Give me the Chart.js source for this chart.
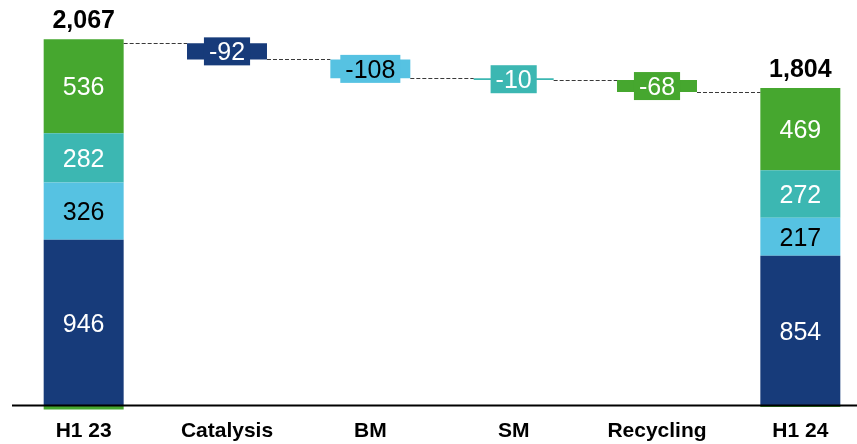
<!DOCTYPE html>
<html>
<head>
<meta charset="utf-8">
<script src="https://cdn.jsdelivr.net/npm/chart.js@4"></script>
<style>
  html, body { margin: 0; padding: 0; background: #fff; overflow: hidden; }
  #wrap { position: relative; width: 872px; height: 444px; }
</style>
</head>
<body>
<div id="wrap"><canvas id="c"></canvas></div>
<script>
const categories = ['H1 23', 'Catalysis', 'BM', 'SM', 'Recycling', 'H1 24'];

// Segment values for the two periods (H1 23, H1 24)
const catalysisSeg = [946, 854];
const bmSeg = [326, 217];
const smSeg = [282, 272];
const recyclingSeg = [536, 469];
const otherSeg = [-23, -8];
const periodTotals = [2067, 1804];

// Bridge changes: Catalysis, BM, SM, Recycling
const bridgeDeltas = [-92, -108, -10, -68];

const FONT = '"Liberation Sans", Arial, Helvetica, sans-serif';
const COLORS = { catalysis: '#173B7A', bm: '#56C2E2', sm: '#3CB7B2', recycling: '#46A72F' };

// Running totals along the bridge
const levels = [periodTotals[0]];
bridgeDeltas.forEach((d, i) => levels.push(levels[i] + d));

function seriesData(seg, bridgeIndex) {
  const data = categories.map(() => null);
  data[0] = seg[0];
  data[categories.length - 1] = seg[1];
  if (bridgeIndex !== null) data[bridgeIndex + 1] = [levels[bridgeIndex], levels[bridgeIndex + 1]];
  return data;
}

const series = [
  { key: 'catalysis', seg: catalysisSeg, bridge: 0, text: '#fff' },
  { key: 'bm', seg: bmSeg, bridge: 1, text: '#000' },
  { key: 'sm', seg: smSeg, bridge: 2, text: '#fff' },
  { key: 'recycling', seg: recyclingSeg, bridge: 3, text: '#fff' }
];

const datasets = series.map(s => ({
  label: s.key,
  data: seriesData(s.seg, s.bridge),
  backgroundColor: COLORS[s.key],
  borderWidth: 0,
  textColor: s.text,
  bridgeIndex: s.bridge
}));
datasets.push({
  label: 'other',
  data: seriesData(otherSeg, null),
  backgroundColor: COLORS.recycling,
  borderWidth: 0,
  noLabel: true
});

function fmt(v) { return v.toLocaleString('en-US'); }

const bridgePlugin = {
  id: 'bridge',
  afterDatasetsDraw(chart) {
    const ctx = chart.ctx;
    const xs = chart.scales.x, ys = chart.scales.y, area = chart.chartArea;
    const last = categories.length - 1;
    const halfW = chart.getDatasetMeta(0).data[0].width / 2;
    ctx.save();

    // dashed connectors between consecutive bars
    ctx.strokeStyle = '#3a3a3a';
    ctx.lineWidth = 1;
    ctx.setLineDash([4, 2]);
    levels.forEach((lv, i) => {
      const yy = Math.round(ys.getPixelForValue(lv)) + 0.5;
      const x1 = xs.getPixelForValue(i) + halfW;
      const x2 = xs.getPixelForValue(i + 1) - halfW;
      ctx.beginPath(); ctx.moveTo(x1, yy); ctx.lineTo(x2, yy); ctx.stroke();
    });
    ctx.setLineDash([]);

    // zero axis line
    const y0 = ys.getPixelForValue(0);
    ctx.strokeStyle = '#000';
    ctx.lineWidth = 2;
    ctx.beginPath(); ctx.moveTo(area.left, y0); ctx.lineTo(chart.width, y0); ctx.stroke();

    const size = 25;
    ctx.textAlign = 'center';
    ctx.textBaseline = 'alphabetic';

    chart.data.datasets.forEach((ds, di) => {
      if (ds.noLabel) return;
      const meta = chart.getDatasetMeta(di);
      // segment labels in the period stacks
      [0, last].forEach((idx, p) => {
        const el = meta.data[idx];
        const cy = (el.y + el.base) / 2;
        ctx.font = `${size}px ${FONT}`;
        ctx.fillStyle = ds.textColor;
        ctx.fillText(String(series[di].seg[p]), el.x, cy + size * 0.358);
      });
      // boxed change label on the floating bar
      const bi = ds.bridgeIndex + 1;
      const el = meta.data[bi];
      const cy = (el.y + el.base) / 2;
      const txt = String(bridgeDeltas[ds.bridgeIndex]);
      ctx.font = `${size}px ${FONT}`;
      const w = ctx.measureText(txt).width + 10;
      ctx.fillStyle = ds.backgroundColor;
      ctx.fillRect(el.x - w / 2, cy - 14, w, 28);
      ctx.fillStyle = ds.textColor;
      ctx.fillText(txt, el.x, cy + size * 0.358);
    });

    // period totals above the stacks
    [0, last].forEach((idx, p) => {
      const posSum = series.reduce((a, s) => a + s.seg[p], 0);
      const top = ys.getPixelForValue(posSum);
      ctx.font = `bold ${size}px ${FONT}`;
      ctx.fillStyle = '#000';
      ctx.fillText(fmt(periodTotals[p]), xs.getPixelForValue(idx), top - 11);
    });
    ctx.restore();
  }
};

new Chart(document.getElementById('c'), {
  type: 'bar',
  data: { labels: categories, datasets },
  options: {
    responsive: true,
    maintainAspectRatio: false,
    animation: false,
    barPercentage: 0.558,
    categoryPercentage: 1,
    layout: { padding: { left: 12, top: 0, right: 0, bottom: 0.5 } },
    plugins: { legend: { display: false }, tooltip: { enabled: false } },
    scales: {
      x: {
        stacked: true,
        grid: { display: false, drawTicks: false },
        border: { display: false },
        ticks: { color: '#000', padding: 2, font: { family: FONT, size: 21, weight: 'bold', lineHeight: 1 } }
      },
      y: {
        stacked: true,
        display: false,
        min: -74.2,
        max: 2314.1
      }
    }
  },
  plugins: [bridgePlugin]
});
</script>
</body>
</html>
